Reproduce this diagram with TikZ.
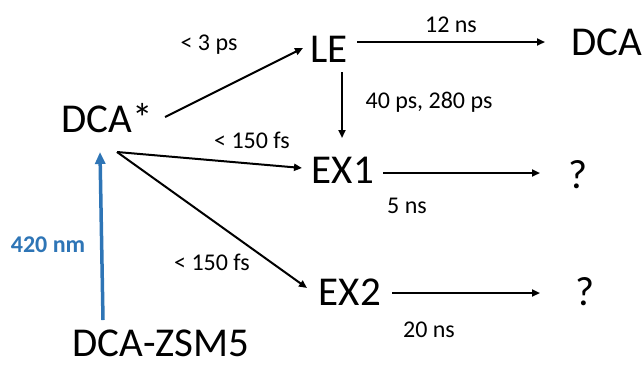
\documentclass[tikz,border=0pt]{standalone}
\usepackage{fontspec}
\setmainfont{Carlito}
\usetikzlibrary{calc,arrows.meta}
\definecolor{bluearrow}{RGB}{46,117,182}
\begin{document}
\begin{tikzpicture}[x=1pt,y=-1pt,
  big/.style={inner sep=0pt,anchor=base,font=\fontsize{41}{41}\selectfont},
  small/.style={inner sep=0pt,anchor=base,font=\fontsize{24}{24}\selectfont},
  conn/.style={line width=2pt,-{Triangle[length=8pt,width=7pt]}},
  exc/.style={line width=3.5pt,color=bluearrow,-{Triangle[length=12pt,width=10pt]}}]
\useasboundingbox (0,0) rectangle (644,365);
% states
\node[big] (dcas) at (107,132) {DCA*};
\node[big] (le) at (329,62) {LE};
\node[big] (dca) at (607,55) {DCA};
\node[big] (ex1) at (343,183) {EX1};
\node[big] (ex2) at (350,305) {EX2};
\node[big] (zsm) at (161,356) {DCA-ZSM5};
\node[big] (q1) at (578,188) {?};
\node[big] (q2) at (585,305) {?};
% labels
\node[small] (l1) at (209,50) {< 3 ps};
\node[small] (l2) at (451,32) {12 ns};
\node[small] (l3) at (429,108) {40 ps, 280 ps};
\node[small] (l4) at (252,148) {< 150 fs};
\node[small] (l5) at (407,213) {5 ns};
\node[small] (l6) at (212,270) {< 150 fs};
\node[small] (l7) at (429,337) {20 ns};
\node[small,font=\fontsize{24}{24}\selectfont\bfseries,text=bluearrow] (l8) at (48,252) {420 nm};
% connectors
\draw[conn] ($(dcas.base)+(58,-15)$) -- ($(le.base)+(-26,-14)$);
\draw[conn] ($(dcas.base)+(10,20)$) -- ($(ex1.base)+(-41,-15)$);
\draw[conn] ($(dcas.base)+(10,20)$) -- ($(ex2.base)+(-43,-17)$);
\draw[conn] ($(le.base)+(28,-20)$) -- ($(dca.base)+(-62,-13)$);
\draw[conn] ($(le.base)+(13,10)$) -- ($(ex1.base)+(-1,-45)$);
\draw[conn] ($(ex1.base)+(40,-10)$) -- ($(q1.base)+(-38,-15)$);
\draw[conn] ($(ex2.base)+(42,-12)$) -- ($(q2.base)+(-45,-12)$);
\draw[exc] ($(zsm.base)+(-58,-36)$) -- ($(dcas.base)+(-7,20)$);
\end{tikzpicture}
\end{document}
